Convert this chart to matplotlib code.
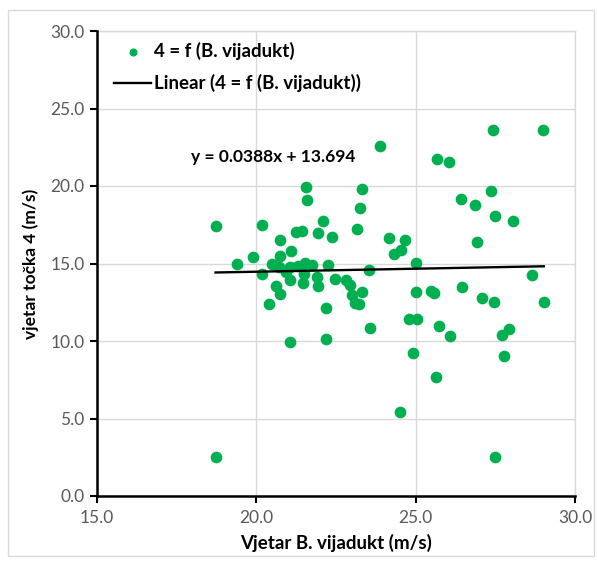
import numpy as np
import matplotlib
matplotlib.use("Agg")
import matplotlib.pyplot as plt
from matplotlib.patches import Rectangle

# data
vijadukt = [18.72, 18.72, 19.38, 19.91, 20.18, 20.18, 20.40, 20.49, 20.63, 20.71,
            20.74, 20.74, 20.74, 20.94, 21.05, 21.05, 21.05, 21.10, 21.23, 21.30,
            21.44, 21.45, 21.49, 21.53, 21.55, 21.58, 21.75, 21.90, 21.93, 21.95,
            22.09, 22.20, 22.20, 22.25, 22.39, 22.46, 22.80, 22.93, 22.99, 23.09,
            23.16, 23.21, 23.24, 23.31, 23.32, 23.54, 23.58, 23.87, 24.15, 24.32,
            24.50, 24.54, 24.66, 24.78, 24.92, 25.00, 25.00, 25.05, 25.48, 25.57,
            25.63, 25.66, 25.73, 26.04, 26.07, 26.42, 26.46, 26.85, 26.91, 27.08,
            27.35, 27.42, 27.45, 27.50, 27.50, 27.70, 27.76, 27.92, 28.06, 28.64,
            29.01, 29.02]
tocka4 = [17.42, 2.52, 14.97, 15.40, 17.48, 14.32, 12.37, 14.97, 13.57, 14.80,
          16.49, 15.46, 13.01, 14.47, 14.80, 13.94, 9.94, 15.83, 17.01, 14.86,
          17.10, 13.72, 14.32, 15.05, 19.92, 19.10, 14.90, 14.13, 16.95, 13.57,
          17.74, 12.13, 10.15, 14.92, 16.71, 14.00, 13.94, 13.59, 12.95, 12.43,
          17.20, 12.37, 18.60, 19.79, 13.17, 14.60, 10.86, 22.60, 16.62, 15.59,
          5.42, 15.89, 16.50, 11.44, 9.23, 15.01, 13.15, 11.44, 13.20, 13.10,
          7.66, 21.74, 10.95, 21.53, 10.32, 19.16, 13.46, 18.75, 16.37, 12.78,
          19.70, 23.63, 12.52, 18.04, 2.52, 10.41, 9.05, 10.79, 17.72, 14.28,
          23.63, 12.52]

# trendline as printed on the chart
slope = 0.0388
intercept = 13.694

x_ticks = [15.0, 20.0, 25.0, 30.0]
y_ticks = [0.0, 5.0, 10.0, 15.0, 20.0, 25.0, 30.0]

plt.rcParams['font.family'] = ['Lato', 'DejaVu Sans']

fig = plt.figure(figsize=(5.97, 5.62), dpi=100)
ax = fig.add_axes([97/597, 1-496/562, (575-97)/597, (496-31)/562])

# outer chart border
fig.patches.append(Rectangle((8/597, 6/562), 586/597, 546/562, transform=fig.transFigure,
                             fill=False, edgecolor='#d9d9d9', linewidth=1, zorder=0))

ax.scatter(vijadukt, tocka4, s=55, color='#00b050', zorder=3,
           label='4 = f (B. vijadukt)')

xs = np.array([min(vijadukt), max(vijadukt)])
ax.plot(xs, slope*xs + intercept, color='black', linewidth=1.7, zorder=4,
        label='Linear (4 = f (B. vijadukt))')

ax.text(17.95, 21.9, "y = %.4fx + %.3f" % (slope, intercept), fontsize=12.5,
        fontweight='bold', va='center', ha='left')

ax.set_xlim(15, 30)
ax.set_ylim(0, 30)
ax.set_xticks(x_ticks)
ax.set_yticks(y_ticks)
ax.set_xticklabels(["%.1f" % v for v in x_ticks])
ax.set_yticklabels(["%.1f" % v for v in y_ticks])
ax.tick_params(axis='both', colors='black', labelcolor='#595959', labelsize=12.5,
               direction='out', length=5, width=1.5)
ax.tick_params(axis='x', pad=5)
ax.tick_params(axis='y', pad=4)

ax.grid(True, color='#d9d9d9', linewidth=1, zorder=0)
ax.set_axisbelow(True)
for side in ['top', 'right']:
    ax.spines[side].set_visible(False)
for side in ['left', 'bottom']:
    ax.spines[side].set_linewidth(1.8)
    ax.spines[side].set_color('black')
ax.axhline(30, color='#d9d9d9', linewidth=1, zorder=0, clip_on=False)
ax.axvline(30, color='#d9d9d9', linewidth=1, zorder=0, clip_on=False)

ax.set_xlabel("Vjetar B. vijadukt (m/s)", fontsize=13.5, fontweight='bold', labelpad=6)
ax.set_ylabel("vjetar točka 4 (m/s)", fontsize=12.5, fontweight='bold', labelpad=8)

leg = ax.legend(loc='upper left', bbox_to_anchor=(0.012, 1.0), frameon=False,
                prop={'size': 13.5, 'weight': 'bold'}, handlelength=2.0,
                handletextpad=0.12, labelspacing=0.75, borderaxespad=0.2,
                markerscale=0.65)

fig.savefig("out.png", dpi=100)
